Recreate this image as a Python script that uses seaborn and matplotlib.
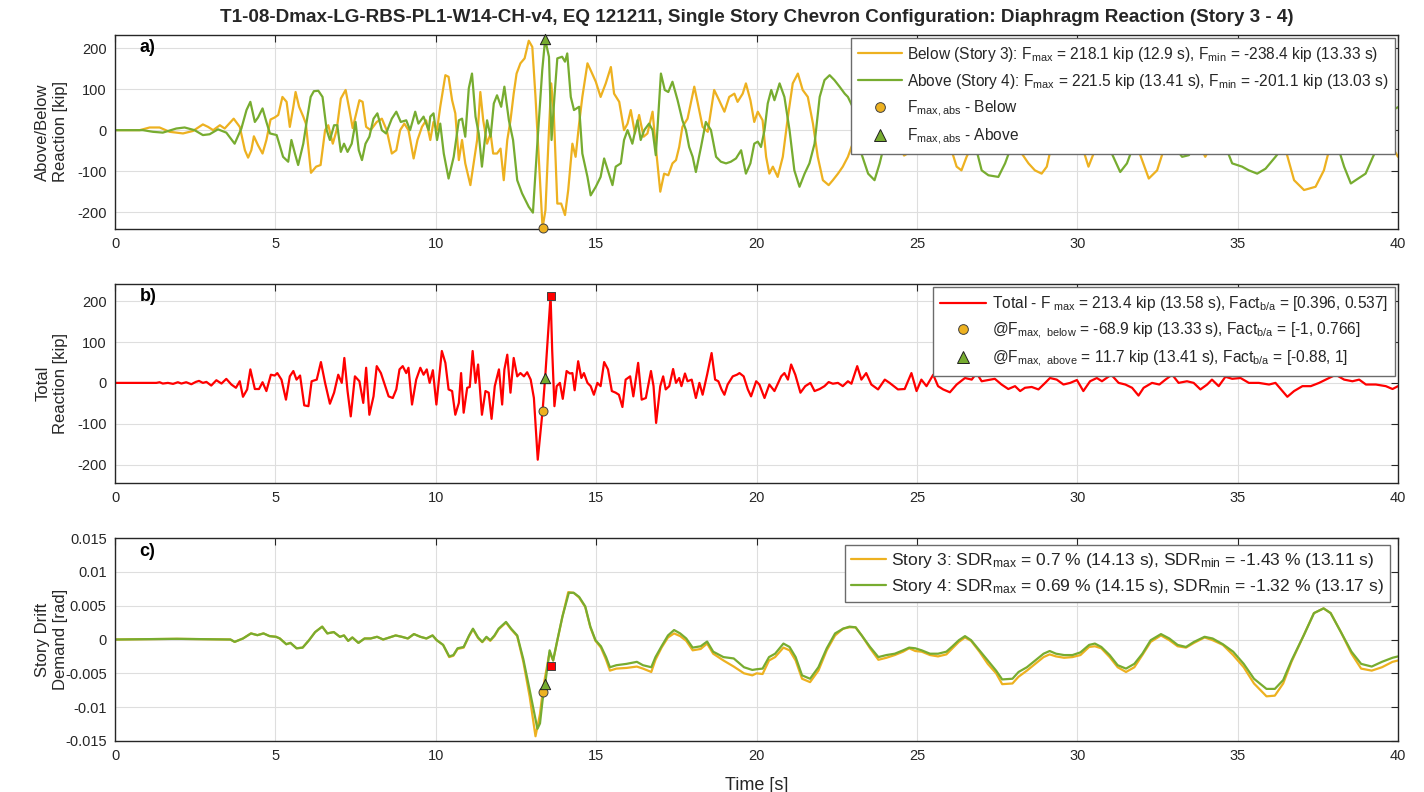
import matplotlib
matplotlib.use("Agg")
import matplotlib.pyplot as plt
from matplotlib.lines import Line2D
import seaborn as sns

# ---------------- data ----------------
# Panel a: diaphragm reaction below (story 3) and above (story 4) [kip]
t_below = [0, 0.77, 1.08, 1.39, 1.70, 2.12, 2.43, 2.74, 2.90, 3.06, 3.27, 3.42, 3.70, 3.89, 4.05, 4.15, 4.25,
           4.33, 4.46, 4.60, 4.72, 4.85, 4.98, 5.09, 5.22, 5.35, 5.45, 5.56, 5.63, 5.74, 5.87, 5.95, 6.11, 6.27,
           6.41, 6.55, 6.65, 6.79, 6.91, 7.04, 7.19, 7.31, 7.41, 7.52, 7.62, 7.72, 7.83, 7.97, 8.16, 8.32, 8.47,
           8.63, 8.77, 8.89, 9.02, 9.15, 9.31, 9.43, 9.57, 9.70, 9.83, 9.93, 10.04, 10.14, 10.30, 10.40, 10.51,
           10.61, 10.72, 10.82, 10.92, 11.08, 11.18, 11.29, 11.39, 11.48, 11.60, 11.71, 11.79, 11.91, 12.02,
           12.12, 12.23, 12.33, 12.43, 12.52, 12.64, 12.77, 12.90, 13.01, 13.11, 13.22, 13.33, 13.42, 13.53,
           13.60, 13.68, 13.79, 13.91, 14.03, 14.13, 14.26, 14.36, 14.47, 14.57, 14.73, 14.83, 14.99, 15.14,
           15.30, 15.46, 15.56, 15.72, 15.87, 15.98, 16.08, 16.21, 16.34, 16.48, 16.60, 16.76, 16.86, 17.00,
           17.12, 17.25, 17.38, 17.49, 17.59, 17.69, 17.85, 18.06, 18.16, 18.32, 18.48, 18.68, 18.81, 19.00,
           19.15, 19.31, 19.41, 19.57, 19.67, 19.81, 19.93, 20.04, 20.19, 20.30, 20.40, 20.51, 20.66, 20.82,
           20.98, 21.13, 21.29, 21.44, 21.60, 21.76, 21.91, 22.07, 22.25, 22.38, 22.54, 22.69, 22.85, 22.96,
           23.3, 23.7, 24.1, 24.45, 24.6, 24.75, 24.9, 25.5, 26.0, 26.08, 26.24, 26.39, 26.55, 26.65, 27.2,
           27.6, 28.0, 28.27, 28.48, 28.68, 28.89, 29.05, 29.21, 29.6, 29.9, 30.19, 30.35, 30.51, 30.9, 31.3,
           31.7, 31.91, 32.23, 32.49, 32.69, 33.1, 33.5, 33.89, 33.99, 34.10, 34.6, 35.3, 36.0, 36.50, 36.76,
           37.07, 37.43, 37.69, 37.85, 38.3, 38.8, 39.4, 39.88, 40.0]
f_below = [0, 0, 6.5, 6.5, -4, -8, -2, 14, 8, 0, 12, 4, 28, 8, -49, -67, -49, -15, -37, -57, -24, 26, 31, 37, 81,
           69, 8, 57, 93, 57, 33, 16, -104, -89, -85, 0, 12, -33, 0, 77, 98, 49, 5, 41, 73, 69, 8, 0, 20, 28, 0,
           -57, -49, 0, 16, 0, -69, -24, 8, 24, -24, 20, 0, 57, 134, 130, 73, 41, -73, -24, -81, -134, -81, -24,
           93, 24, -33, -8, -57, -57, -45, -122, -24, 24, 89, 138, 163, 175, 218, 203, 81, -81, -238.4, -195, 0,
           114, 41, -179, -179, -207, -146, -33, -65, 16, 81, 163, 146, 118, 81, 114, 154, 89, 69, 0, 16, 49,
           -8, 37, -16, -8, 45, -41, -150, -106, -110, -81, -73, -41, 8, 28, 106, 69, 8, -4, 98, 77, 45, 81, 89,
           69, 89, 114, 73, 20, 45, 24, -65, -106, -89, -114, -65, 33, 114, 138, 98, 81, 16, -65, -122, -134,
           -122, -106, -89, -65, -41, 20, 80, 40, -30, -62, -55, -20, 90, 20, -49, -89, -98, -65, -49, 60, 100,
           60, -57, -81, -98, -106, -89, -33, 50, 20, -49, -89, -57, 40, 90, 20, -49, -118, -98, -49, 50, 30,
           -49, -65, -49, 60, 100, 40, -49, -122, -146, -138, -98, -49, 60, 100, 40, -49, -65]

t_above = [0, 0.87, 1.18, 1.49, 1.91, 2.17, 2.48, 2.74, 2.95, 3.21, 3.47, 3.73, 3.94, 4.10, 4.22, 4.36, 4.46,
           4.60, 4.72, 4.83, 5.04, 5.24, 5.40, 5.50, 5.61, 5.71, 5.87, 6.00, 6.10, 6.20, 6.34, 6.47, 6.60, 6.70,
           6.83, 6.93, 7.04, 7.14, 7.25, 7.38, 7.50, 7.60, 7.70, 7.81, 7.93, 8.06, 8.18, 8.32, 8.45, 8.63, 8.77,
           8.91, 9.08, 9.20, 9.36, 9.46, 9.62, 9.78, 9.83, 9.93, 10.04, 10.14, 10.25, 10.40, 10.56, 10.72, 10.82,
           10.92, 11.03, 11.13, 11.24, 11.34, 11.44, 11.53, 11.60, 11.71, 11.81, 11.91, 12.04, 12.14, 12.28,
           12.41, 12.54, 12.69, 12.90, 13.03, 13.16, 13.32, 13.41, 13.53, 13.61, 13.70, 13.79, 13.94, 14.03,
           14.10, 14.21, 14.31, 14.47, 14.57, 14.73, 14.83, 14.99, 15.14, 15.25, 15.40, 15.51, 15.61, 15.77,
           15.87, 15.98, 16.13, 16.29, 16.39, 16.50, 16.65, 16.76, 16.86, 17.02, 17.14, 17.25, 17.38, 17.54,
           17.69, 17.80, 17.90, 18.01, 18.11, 18.27, 18.42, 18.58, 18.74, 18.89, 19.05, 19.20, 19.36, 19.52,
           19.67, 19.81, 19.93, 20.04, 20.14, 20.25, 20.35, 20.46, 20.56, 20.72, 20.87, 21.03, 21.18, 21.34,
           21.50, 21.65, 21.81, 21.97, 22.12, 22.28, 22.43, 22.59, 22.75, 22.85, 23.1, 23.27, 23.48, 23.68,
           23.84, 23.94, 24.4, 24.9, 25.4, 25.8, 26.3, 26.86, 27.02, 27.23, 27.54, 27.75, 27.90, 28.4, 28.9,
           29.5, 30.0, 30.4, 30.8, 31.03, 31.34, 31.55, 31.70, 32.2, 32.7, 33.11, 33.27, 33.48, 33.58, 33.9,
           34.2, 34.5, 34.67, 34.83, 35.14, 35.35, 35.61, 35.87, 36.18, 36.34, 36.8, 37.2, 37.6, 38.0, 38.16,
           38.32, 38.53, 38.68, 38.99, 39.31, 39.62, 39.83, 40.0]
f_above = [0, 0, -4, -6, 4, 6.5, 0, -12, -10, 2, -6, -33, 4, 49, 69, 20, 31, 53, 20, -8, -12, -65, -77, -24, -57,
           -85, -33, 33, 81, 95, 96, 81, 0, -24, 12, 12, -53, -33, -53, -33, 20, -49, -73, -33, -16, 28, 41, 0,
           -8, 28, 45, 20, 24, 0, 45, 16, 33, 0, 33, 41, -24, 16, -57, -118, -65, 24, 28, -16, 102, 138, 33, -8,
           -89, -24, 24, -16, 65, 85, 57, 106, 24, -24, -122, -154, -187, -201.1, -41, 146, 221.5, 179, -24, 81,
           175, 179, 167, 187, 81, 49, 57, -57, -114, -159, -138, -114, -69, -106, -134, -89, -81, -24, 0, -33,
           24, -24, 0, 16, 0, -61, 138, 98, 93, 118, 73, 24, 0, -41, -65, -102, -41, 20, 0, -65, -77, -81, -77,
           -69, -49, -106, -81, -33, -28, -41, 0, 65, 98, 73, 114, 81, 0, -98, -138, -106, -81, -33, 81, 122,
           134, 122, 106, 89, 81, 40, -57, -106, -122, -81, -49, 40, 70, 30, 60, 80, -49, -98, -110, -114, -81,
           -49, 60, 90, 30, 40, 70, 0, -49, -102, -81, -49, 60, 20, -49, -65, -61, -49, 20, 40, 0, -49, -81,
           -89, -98, -106, -94, -65, -49, 40, 90, 60, 0, -49, -89, -130, -122, -106, -49, 0, 49, 56]

# Panel b: total reaction [kip]
t_total = [0, 1.29, 1.39, 1.49, 1.65, 1.81, 1.96, 2.07, 2.22, 2.38, 2.52, 2.62, 2.74, 2.85, 3.00, 3.16, 3.32,
           3.47, 3.63, 3.77, 3.89, 3.99, 4.12, 4.22, 4.36, 4.49, 4.60, 4.72, 4.86, 4.98, 5.06, 5.19, 5.33, 5.45,
           5.56, 5.66, 5.77, 5.90, 6.03, 6.13, 6.29, 6.42, 6.55, 6.70, 6.83, 6.96, 7.07, 7.15, 7.25, 7.35, 7.48,
           7.62, 7.74, 7.83, 7.93, 8.06, 8.16, 8.29, 8.39, 8.53, 8.66, 8.77, 8.87, 8.97, 9.08, 9.15, 9.26, 9.39,
           9.52, 9.62, 9.72, 9.81, 9.91, 10.02, 10.19, 10.30, 10.40, 10.51, 10.61, 10.72, 10.79, 10.87, 10.98,
           11.06, 11.15, 11.24, 11.32, 11.44, 11.55, 11.65, 11.74, 11.84, 11.97, 12.07, 12.14, 12.23, 12.33,
           12.43, 12.54, 12.64, 12.75, 12.85, 12.96, 13.06, 13.18, 13.33, 13.41, 13.50, 13.58, 13.63, 13.70,
           13.77, 13.87, 13.96, 14.08, 14.18, 14.26, 14.33, 14.44, 14.54, 14.62, 14.73, 14.83, 14.93, 15.04,
           15.14, 15.25, 15.37, 15.49, 15.61, 15.71, 15.82, 15.92, 16.06, 16.16, 16.31, 16.42, 16.55, 16.71,
           16.79, 16.87, 17.00, 17.09, 17.17, 17.28, 17.40, 17.49, 17.59, 17.66, 17.77, 17.85, 17.98, 18.11,
           18.22, 18.32, 18.46, 18.60, 18.71, 18.81, 18.91, 19.00, 19.10, 19.26, 19.39, 19.47, 19.60, 19.73,
           19.83, 19.99, 20.09, 20.25, 20.40, 20.56, 20.77, 20.87, 20.98, 21.08, 21.21, 21.37, 21.52, 21.68,
           21.81, 21.97, 22.12, 22.25, 22.38, 22.54, 22.69, 22.85, 22.96, 23.14, 23.27, 23.42, 23.58, 23.79,
           24.00, 24.15, 24.41, 24.62, 24.83, 24.99, 25.14, 25.30, 25.51, 25.66, 25.82, 26.03, 26.24, 26.50,
           26.71, 26.86, 27.02, 27.23, 27.43, 27.64, 27.85, 28.06, 28.22, 28.37, 28.58, 28.79, 29.00, 29.15,
           29.36, 29.57, 29.78, 29.99, 30.19, 30.40, 30.61, 30.77, 31.06, 31.29, 31.50, 31.71, 31.91, 32.07,
           32.33, 32.56, 32.75, 32.96, 33.16, 33.42, 33.63, 33.84, 34.05, 34.20, 34.41, 34.62, 34.83, 35.09,
           35.35, 35.66, 35.98, 36.18, 36.55, 36.76, 37.02, 37.28, 37.54, 37.75, 38.06, 38.32, 38.58, 38.79,
           39.00, 39.31, 39.62, 39.83, 40.0]
f_total = [0, 0, 1.6, -1.6, 0, -2.4, 1.6, -1.6, 1.6, -3.3, 2.4, 4.9, 0, 2.4, -6.5, 6.5, -1.6, 9.8, -4.1, -12,
           4.1, -34, -16, 33, -15, -15, 1.6, -20, 20, 18, 24, 8, -41, 16, 29, 8, 18, -55, -57, 4, 8, 51, 0, -51,
           -24, 20, 0, 61, -20, -82, 16, 4, -49, 37, -78, -33, 41, 24, 0, -33, -37, -16, 33, 41, 24, 37, -53, 8,
           37, 20, 33, 0, 31, -53, 78, 49, -16, -20, -78, -49, 24, -73, -12, -10, 78, 0, 45, -78, -20, -24, -88,
           -8, 33, -53, 33, 69, -24, 61, 16, 24, 16, 26, 8, -37, -188, -68.9, 11.7, 120, 213.4, 80, -57, -8, 0,
           -39, 29, 23, 24, -18, 53, 12, 24, 0, -8, -29, 0, -8, 51, 33, -20, -24, -29, -59, 8, 16, -33, 49, -41,
           -37, 29, -8, -98, -8, 16, -16, -8, 34, 0, 12, -8, 23, 4, 8, -37, 0, -29, 20, 73, 8, 4, -16, -29, -4,
           16, 20, 24, 16, -16, -33, 4, -4, -37, -4, -20, 16, 24, 8, 45, 20, -24, -8, 0, -20, -15, -8, 2, -2, 0,
           -8, 4, -2, 41, 8, 24, -4, -16, 8, 0, -16, -15, 24, -20, 8, -8, 20, -8, -16, -23, -4, 12, 8, 24, 4, 7,
           10, -4, -15, -8, -20, -12, -10, -16, 0, 12, 8, -4, 0, 7, -20, 4, 12, 4, 20, 0, -4, -12, -31, -12, 0,
           -4, 8, 20, 0, 4, 0, -16, -4, 8, -8, 15, 10, 12, 0, 0, -4, 0, -34, -20, -8, -8, 0, 8, 20, 8, 4, 8, -4,
           -4, -8, -15, -8]

# Panel c: story drift demand [rad]
t_sdr3 = [0, 1.93, 3.60, 3.73, 3.99, 4.24, 4.44, 4.63, 4.82, 5.02, 5.14, 5.34, 5.47, 5.66, 5.85, 6.05, 6.24,
          6.46, 6.62, 6.82, 7.01, 7.14, 7.27, 7.40, 7.59, 7.78, 7.97, 8.17, 8.36, 8.55, 8.75, 8.94, 9.13, 9.32,
          9.52, 9.71, 9.90, 10.03, 10.23, 10.42, 10.55, 10.68, 10.87, 11.04, 11.16, 11.32, 11.45, 11.58, 11.70,
          11.83, 11.96, 12.19, 12.35, 12.54, 12.73, 12.93, 13.11, 13.25, 13.33, 13.41, 13.55, 13.66, 13.79,
          13.95, 14.13, 14.30, 14.47, 14.66, 14.82, 14.98, 15.15, 15.31, 15.43, 15.63, 15.95, 16.27, 16.46,
          16.72, 16.85, 17.04, 17.24, 17.43, 17.62, 17.81, 18.01, 18.26, 18.46, 18.65, 18.97, 19.29, 19.61,
          19.87, 20.0, 20.19, 20.39, 20.58, 20.84, 21.03, 21.22, 21.42, 21.67, 21.93, 22.19, 22.45, 22.70,
          22.90, 23.09, 23.28, 23.54, 23.80, 24.05, 24.31, 24.57, 24.76, 24.95, 25.15, 25.41, 25.66, 25.92,
          26.11, 26.31, 26.50, 26.69, 26.95, 27.21, 27.47, 27.66, 27.98, 28.17, 28.43, 28.69, 28.95, 29.14,
          29.34, 29.59, 29.85, 30.10, 30.37, 30.55, 30.75, 31.01, 31.26, 31.52, 31.78, 32.03, 32.29, 32.61,
          32.87, 33.13, 33.39, 33.64, 33.97, 34.22, 34.54, 34.86, 35.19, 35.51, 35.90, 36.16, 36.42, 36.68,
          37.06, 37.38, 37.68, 37.90, 38.22, 38.55, 38.85, 39.18, 39.50, 39.83, 40.0]
sdr3 = [0, 0.0001, 0, -0.00035, 0.00015, 0.0009, 0.00064, 0.0009, 0.0005, 0.0004, 0.00015, -0.0007, -0.0005,
        -0.0013, -0.0012, -0.0001, 0.0011, 0.0019, 0.0009, 0.0011, 0.0004, 0.0006, -0.0002, 0.0003, -0.0005,
        0.00015, 0.00015, 0.0004, 0, 0.0003, 0.0006, 0.0004, 0.00015, 0.0008, 0.0004, 0.00015, 0.0006, -0.0001,
        -0.0008, -0.0026, -0.0024, -0.0014, -0.0012, 0.0005, 0.0015, 0.0002, -0.0004, 0.0003, -0.0002, 0.0005,
        0.0015, 0.0025, 0.0015, 0.0005, -0.0033, -0.0085, -0.0143, -0.0110, -0.0078, -0.0055, -0.0019, -0.0031,
        -0.0002, 0.0034, 0.0070, 0.0069, 0.0062, 0.0048, 0.0018, -0.0002, -0.0012, -0.0030, -0.0046, -0.0043,
        -0.0042, -0.0040, -0.0043, -0.0048, -0.0030, -0.0012, 0.0003, 0.0009, 0.0005, -0.0002, -0.0016,
        -0.0014, -0.0006, -0.0021, -0.0031, -0.0040, -0.0050, -0.0053, -0.0050, -0.0051, -0.0031, -0.0026,
        -0.0012, -0.0016, -0.0031, -0.0058, -0.0063, -0.0046, -0.0016, 0.0006, 0.0016, 0.0018, 0.0018, 0.0006,
        -0.0013, -0.0030, -0.0027, -0.0023, -0.0018, -0.0013, -0.0017, -0.0018, -0.0023, -0.0025, -0.0022,
        -0.0013, -0.00035, 0.0003, -0.0002, -0.0018, -0.0036, -0.0050, -0.0066, -0.0065, -0.0055, -0.0046,
        -0.0036, -0.0026, -0.0022, -0.0025, -0.0027, -0.0026, -0.0023, -0.0011, -0.0010, -0.0013, -0.0026,
        -0.0041, -0.0048, -0.0041, -0.0023, -0.00035, 0.0006, -0.0001, -0.0010, -0.0012, -0.0005, 0.0003,
        -0.0001, -0.0008, -0.0023, -0.0041, -0.0065, -0.0084, -0.0083, -0.0065, -0.0033, 0.0006, 0.0039,
        0.0046, 0.0039, 0.0011, -0.0021, -0.0043, -0.0046, -0.0041, -0.0033, -0.0031]

t_sdr4 = [0, 1.93, 3.60, 3.73, 3.99, 4.24, 4.44, 4.63, 4.82, 5.02, 5.14, 5.34, 5.47, 5.66, 5.85, 6.05, 6.24,
          6.46, 6.62, 6.82, 7.01, 7.14, 7.27, 7.40, 7.59, 7.78, 7.97, 8.17, 8.36, 8.55, 8.75, 8.94, 9.13, 9.32,
          9.52, 9.71, 9.90, 10.03, 10.23, 10.42, 10.55, 10.68, 10.87, 11.04, 11.16, 11.32, 11.45, 11.58, 11.70,
          11.83, 11.96, 12.19, 12.35, 12.54, 12.73, 12.93, 13.17, 13.25, 13.33, 13.41, 13.55, 13.66, 13.79,
          13.95, 14.15, 14.30, 14.47, 14.66, 14.82, 14.98, 15.15, 15.31, 15.43, 15.63, 15.95, 16.27, 16.46,
          16.72, 16.85, 17.04, 17.24, 17.43, 17.62, 17.81, 18.01, 18.26, 18.46, 18.65, 18.97, 19.29, 19.61,
          19.87, 20.0, 20.19, 20.39, 20.58, 20.84, 21.03, 21.22, 21.42, 21.67, 21.93, 22.19, 22.45, 22.70,
          22.90, 23.09, 23.28, 23.54, 23.80, 24.05, 24.31, 24.57, 24.76, 24.95, 25.15, 25.41, 25.66, 25.92,
          26.11, 26.31, 26.50, 26.69, 26.95, 27.21, 27.47, 27.66, 27.98, 28.17, 28.43, 28.69, 28.95, 29.14,
          29.34, 29.59, 29.85, 30.10, 30.37, 30.55, 30.75, 31.01, 31.26, 31.52, 31.78, 32.03, 32.29, 32.61,
          32.87, 33.13, 33.39, 33.64, 33.97, 34.22, 34.54, 34.86, 35.19, 35.51, 35.90, 36.16, 36.42, 36.68,
          37.06, 37.38, 37.68, 37.90, 38.22, 38.55, 38.85, 39.18, 39.50, 39.83, 40.0]
sdr4 = [0, 0.0001, 0, -0.00035, 0.00015, 0.0009, 0.00064, 0.0009, 0.0005, 0.0004, 0.00015, -0.0007, -0.0005,
        -0.0013, -0.0012, -0.0001, 0.0011, 0.0019, 0.0009, 0.0011, 0.0004, 0.0006, -0.0002, 0.0003, -0.0005,
        0.00015, 0.00015, 0.0004, 0, 0.0003, 0.0006, 0.0004, 0.00015, 0.0008, 0.0004, 0.00015, 0.0006, -0.0001,
        -0.0008, -0.0025, -0.0023, -0.0013, -0.0011, 0.0006, 0.0016, 0.0003, -0.00035, 0.0004, -0.0001, 0.0006,
        0.0016, 0.0026, 0.0016, 0.0006, -0.0029, -0.0075, -0.0132, -0.0124, -0.0090, -0.0066, -0.0016, -0.0031,
        -0.0001, 0.0034, 0.0069, 0.0069, 0.0063, 0.0049, 0.0019, -0.0001, -0.0010, -0.0026, -0.0041, -0.0038,
        -0.0036, -0.0033, -0.0038, -0.0041, -0.0026, -0.0010, 0.0006, 0.0014, 0.0009, 0.00015, -0.0012,
        -0.0010, -0.0003, -0.0018, -0.0026, -0.0028, -0.0041, -0.0045, -0.0044, -0.0043, -0.0026, -0.0021,
        -0.0006, -0.0011, -0.0026, -0.0053, -0.0058, -0.0041, -0.0013, 0.0009, 0.0016, 0.0019, 0.0018, 0.0006,
        -0.0011, -0.0026, -0.0023, -0.0021, -0.0016, -0.0012, -0.0013, -0.0016, -0.0021, -0.0021, -0.0018,
        -0.0010, -0.0001, 0.0005, -0.0001, -0.0016, -0.0031, -0.0046, -0.0059, -0.0058, -0.0048, -0.0041,
        -0.0031, -0.0021, -0.0017, -0.0021, -0.0023, -0.0023, -0.0019, -0.0008, -0.0006, -0.0011, -0.0023,
        -0.0038, -0.0043, -0.0036, -0.0021, -0.0001, 0.0008, 0.00015, -0.0008, -0.0011, -0.00035, 0.0004,
        0.00015, -0.0007, -0.0018, -0.0036, -0.0058, -0.0073, -0.0073, -0.0060, -0.0031, 0.0006, 0.0039,
        0.0046, 0.0039, 0.0011, -0.0018, -0.0036, -0.0040, -0.0033, -0.0027, -0.0025]

# marker points
pk_below = (13.33, -238.4)
pk_above = (13.41, 221.5)
tot_pk = (13.58, 213.4)
tot_at_below = (13.33, -68.9)
tot_at_above = (13.41, 11.7)
sdr_at_below = (13.33, -0.0078)
sdr_at_above = (13.41, -0.0066)
sdr_at_total = (13.58, -0.0039)

x_ticks = [0, 5, 10, 15, 20, 25, 30, 35, 40]
f_ticks = [-200, -100, 0, 100, 200]
sdr_ticks = [-0.015, -0.01, -0.005, 0, 0.005, 0.01, 0.015]
sdr_ticklabels = ["-0.015", "-0.01", "-0.005", "0", "0.005", "0.01", "0.015"]

title = ("T1-08-Dmax-LG-RBS-PL1-W14-CH-v4, EQ 121211, Single Story Chevron Configuration: "
         "Diaphragm Reaction (Story 3 - 4)")
lab_a = [r"Below (Story 3): F$_{max}$ = 218.1 kip (12.9 s), F$_{min}$ = -238.4 kip (13.33 s)",
         r"Above (Story 4): F$_{max}$ = 221.5 kip (13.41 s), F$_{min}$ = -201.1 kip (13.03 s)",
         r"F$_{max,abs}$ - Below",
         r"F$_{max,abs}$ - Above"]
lab_b = [r"Total - F$_{\ max}$ = 213.4 kip (13.58 s), Fact$_{b/a}$ = [0.396, 0.537]",
         r"@F$_{max,\ below}$ = -68.9 kip (13.33 s), Fact$_{b/a}$ = [-1, 0.766]",
         r"@F$_{max,\ above}$ = 11.7 kip (13.41 s), Fact$_{b/a}$ = [-0.88, 1]"]
lab_c = [r"Story 3: SDR$_{max}$ = 0.7 % (14.13 s), SDR$_{min}$ = -1.43 % (13.11 s)",
         r"Story 4: SDR$_{max}$ = 0.69 % (14.15 s), SDR$_{min}$ = -1.32 % (13.17 s)"]

# ---------------- style ----------------
sns.set_style("white")
FONT = "Liberation Sans"
plt.rcParams["font.family"] = [FONT, "DejaVu Sans"]
plt.rcParams["mathtext.fontset"] = "custom"
plt.rcParams["mathtext.rm"] = FONT
plt.rcParams["mathtext.default"] = "regular"
plt.rcParams["axes.unicode_minus"] = False

C_BELOW = "#EDB120"
C_ABOVE = "#77AC30"
C_TOTAL = "#FF0000"
EDGE = "#262626"

fig = plt.figure(figsize=(14.24, 7.92), dpi=100)
L, R = 115 / 1424, 1398 / 1424
def box(y0, y1):
    return [L, 1 - y1 / 792, R - L, (y1 - y0) / 792]
ax_a = fig.add_axes(box(35, 229))
ax_b = fig.add_axes(box(284, 483))
ax_c = fig.add_axes(box(538, 741))

def style(ax):
    ax.set_xlim(0, 40)
    ax.set_xticks(x_ticks)
    ax.grid(True, color="#dedede", lw=0.8)
    ax.set_axisbelow(True)
    for s in ax.spines.values():
        s.set_color(EDGE)
        s.set_linewidth(1.0)
        s.set_visible(True)
    ax.tick_params(direction="in", top=True, right=True, length=5, width=0.8,
                   color=EDGE, labelsize=10.5, labelcolor="#262626", pad=6)
    ax.set_xlabel("")

def make_legend(ax, handles, labels, fs, hl, spacing, bpad, anchor, htp=0.3):
    leg = ax.legend(handles, labels, loc="upper right", fontsize=fs, frameon=True, fancybox=False,
                    framealpha=1, edgecolor="#6b6b6b", handlelength=hl, borderaxespad=0,
                    labelspacing=spacing, borderpad=bpad, bbox_to_anchor=anchor, handletextpad=htp)
    leg.get_frame().set_linewidth(1.0)
    leg.set_zorder(10)
    return leg

# Panel a
sns.lineplot(x=t_below, y=f_below, ax=ax_a, color=C_BELOW, linewidth=1.6, estimator=None, sort=False)
sns.lineplot(x=t_above, y=f_above, ax=ax_a, color=C_ABOVE, linewidth=1.6, estimator=None, sort=False)
sns.scatterplot(x=[pk_below[0]], y=[pk_below[1]], ax=ax_a, marker="o", s=42, color=C_BELOW,
                edgecolor="#404040", linewidth=0.7, zorder=6, clip_on=False)
sns.scatterplot(x=[pk_above[0]], y=[pk_above[1]], ax=ax_a, marker="^", s=55, color=C_ABOVE,
                edgecolor="#202020", linewidth=0.7, zorder=6, clip_on=False)
ax_a.set_ylim(-241, 232)
ax_a.set_yticks(f_ticks)
style(ax_a)
ax_a.set_ylabel("Above/Below\nReaction [kip]", fontsize=12)
h_a = [Line2D([], [], color=C_BELOW, lw=1.6), Line2D([], [], color=C_ABOVE, lw=1.6),
       Line2D([], [], ls="", marker="o", ms=7, mfc=C_BELOW, mec="#404040", mew=0.7),
       Line2D([], [], ls="", marker="^", ms=8, mfc=C_ABOVE, mec="#202020", mew=0.7)]
make_legend(ax_a, h_a, lab_a, 11.2, 2.8, 0.5, 0.45, (0.9977, 0.985))

# Panel b
sns.lineplot(x=t_total, y=f_total, ax=ax_b, color=C_TOTAL, linewidth=1.6, estimator=None, sort=False)
sns.scatterplot(x=[tot_pk[0]], y=[tot_pk[1]], ax=ax_b, marker="s", s=34, color=C_TOTAL,
                edgecolor="#404040", linewidth=0.7, zorder=6)
sns.scatterplot(x=[tot_at_below[0]], y=[tot_at_below[1]], ax=ax_b, marker="o", s=42, color=C_BELOW,
                edgecolor="#404040", linewidth=0.7, zorder=6)
sns.scatterplot(x=[tot_at_above[0]], y=[tot_at_above[1]], ax=ax_b, marker="^", s=55, color=C_ABOVE,
                edgecolor="#202020", linewidth=0.7, zorder=6)
ax_b.set_ylim(-245, 242)
ax_b.set_yticks(f_ticks)
style(ax_b)
ax_b.set_ylabel("Total\nReaction [kip]", fontsize=12)
h_b = [Line2D([], [], color=C_TOTAL, lw=1.6),
       Line2D([], [], ls="", marker="o", ms=7, mfc=C_BELOW, mec="#404040", mew=0.7),
       Line2D([], [], ls="", marker="^", ms=8, mfc=C_ABOVE, mec="#202020", mew=0.7)]
make_legend(ax_b, h_b, lab_b, 11.2, 2.9, 0.5, 0.45, (0.9977, 0.985), htp=0.4)

# Panel c
sns.lineplot(x=t_sdr3, y=sdr3, ax=ax_c, color=C_BELOW, linewidth=1.6, estimator=None, sort=False)
sns.lineplot(x=t_sdr4, y=sdr4, ax=ax_c, color=C_ABOVE, linewidth=1.6, estimator=None, sort=False)
sns.scatterplot(x=[sdr_at_total[0]], y=[sdr_at_total[1]], ax=ax_c, marker="s", s=34, color=C_TOTAL,
                edgecolor="#404040", linewidth=0.7, zorder=6)
sns.scatterplot(x=[sdr_at_below[0]], y=[sdr_at_below[1]], ax=ax_c, marker="o", s=42, color=C_BELOW,
                edgecolor="#404040", linewidth=0.7, zorder=6)
sns.scatterplot(x=[sdr_at_above[0]], y=[sdr_at_above[1]], ax=ax_c, marker="^", s=55, color=C_ABOVE,
                edgecolor="#202020", linewidth=0.7, zorder=6)
ax_c.set_ylim(-0.015, 0.015)
ax_c.set_yticks(sdr_ticks)
ax_c.set_yticklabels(sdr_ticklabels)
style(ax_c)
ax_c.set_ylabel("Story Drift\nDemand [rad]", fontsize=12)
ax_c.set_xlabel("Time [s]", fontsize=13, labelpad=10)
h_c = [Line2D([], [], color=C_BELOW, lw=1.6), Line2D([], [], color=C_ABOVE, lw=1.6)]
make_legend(ax_c, h_c, lab_c, 12.5, 2.0, 0.4, 0.35, (0.9935, 0.965), htp=0.3)

for ax, letter in [(ax_a, "a)"), (ax_b, "b)"), (ax_c, "c)")]:
    ax.text(0.019, 0.935, letter, transform=ax.transAxes, fontsize=13, fontweight="bold",
            color="#000000", va="center", ha="left", zorder=11)
    ax.yaxis.set_label_coords(-0.037, 0.5)

fig.text((L + R) / 2, 1 - 18 / 792, title, ha="center", va="center", fontsize=13.6, fontweight="bold")

fig.savefig("out.png", dpi=100)
